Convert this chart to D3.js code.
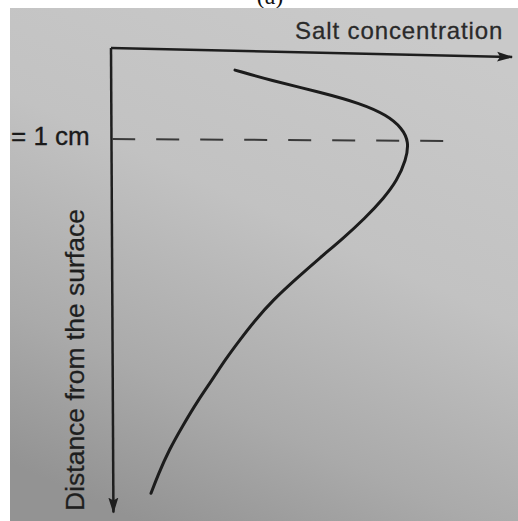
<!DOCTYPE html>
<html>
<head>
<meta charset="utf-8">
<script src="https://cdn.jsdelivr.net/npm/d3@7"></script>
<style>
  html, body { margin: 0; padding: 0; background: #fff; }
  svg { display: block; }
</style>
</head>
<body>
<div id="chartArea"></div>
<script>
// salt concentration profile (arbitrary units) vs depth (cm)
var concentration = [31.0, 39.75, 52.25, 62.25, 69.0, 72.75, 74.5, 73.75, 71.5, 68.25, 63.5, 58.0, 52.25, 46.25, 40.5, 36.0, 32.25, 28.5, 25.25, 21.75, 18.0, 14.5, 11.75, 10.0];
var depth         = [0.24, 0.35, 0.48, 0.60, 0.73, 0.87, 1.02, 1.22, 1.44, 1.63, 1.85, 2.07, 2.28, 2.51, 2.74, 2.96, 3.17, 3.39, 3.61, 3.83, 4.10, 4.37, 4.64, 4.84];
var refDepth = [1];          // the dashed "= 1 cm" level
var refLabel = ["= 1 cm"];
var xTitle = "Salt concentration";
var yTitle = "Distance from the surface";
var panelTitle = "(a)";

(function() {

    var width = 518,
        height = 521;

    // scales: origin of the axes sits at (111, 48)
    var x = d3.scaleLinear().domain([0, 100]).range([111, 511]);
    var y = d3.scaleLinear().domain([0, 5]).range([48, 508]);

    var svg = d3.select("#chartArea").append("svg")
        .attr("width", width)
        .attr("height", height);

    var defs = svg.append("defs");

    // photographed page: light at the top, darker towards bottom left
    var grad = defs.append("linearGradient")
        .attr("id", "paper")
        .attr("x1", "0.7").attr("y1", "0")
        .attr("x2", "0.25").attr("y2", "1");
    grad.append("stop").attr("offset", "0").attr("stop-color", "#c9c9c9");
    grad.append("stop").attr("offset", "0.4").attr("stop-color", "#c2c2c2");
    grad.append("stop").attr("offset", "0.75").attr("stop-color", "#aaaaaa");
    grad.append("stop").attr("offset", "1").attr("stop-color", "#939393");

    defs.append("marker")
        .attr("id", "arrow")
        .attr("viewBox", "0 0 16 12")
        .attr("refX", 15).attr("refY", 6)
        .attr("markerWidth", 16).attr("markerHeight", 12)
        .attr("markerUnits", "userSpaceOnUse")
        .attr("orient", "auto")
      .append("path")
        .attr("d", "M0,1 L16,6 L0,11 L3,6 Z")
        .attr("fill", "#1e1e1e");

    // panel letter, mostly cut off by the photo edge
    svg.append("text")
        .attr("x", 270)
        .attr("y", 4)
        .attr("text-anchor", "middle")
        .attr("font-family", "Liberation Serif, serif")
        .attr("font-size", 24)
        .attr("fill", "#111")
        .text(panelTitle);

    svg.append("rect")
        .attr("x", 10).attr("y", 8)
        .attr("width", width - 10).attr("height", height - 8)
        .attr("fill", "url(#paper)");

    // x axis (slightly tilted in the photo)
    svg.append("g")
        .attr("transform", "rotate(1.28," + x(0) + "," + y(0) + ")")
      .append("line")
        .attr("x1", x(0)).attr("y1", y(0))
        .attr("x2", x(100.3)).attr("y2", y(0))
        .attr("stroke", "#1e1e1e")
        .attr("stroke-width", 2.5)
        .attr("marker-end", "url(#arrow)");

    // y axis
    svg.append("g")
        .attr("transform", "rotate(-0.3," + x(0) + "," + y(0) + ")")
      .append("line")
        .attr("x1", x(0)).attr("y1", y(0))
        .attr("x2", x(0)).attr("y2", y(5.05))
        .attr("stroke", "#1e1e1e")
        .attr("stroke-width", 2.5)
        .attr("marker-end", "url(#arrow)");

    // dashed reference level
    svg.selectAll(".ref")
        .data(refDepth)
        .enter().append("line")
        .attr("class", "ref")
        .attr("x1", x(0.3)).attr("y1", function(d) { return y(d) - 1; })
        .attr("x2", x(84)).attr("y2", function(d) { return y(d) + 1; })
        .attr("stroke", "#3a3a3a")
        .attr("stroke-width", 2)
        .attr("stroke-dasharray", "23,21");

    svg.selectAll(".refLabel")
        .data(refDepth)
        .enter().append("text")
        .attr("class", "refLabel")
        .attr("x", 11)
        .attr("y", function(d) { return y(d) + 5; })
        .attr("font-family", "Liberation Sans, Arial, sans-serif")
        .attr("font-size", 26)
        .attr("fill", "#1a1a1a")
        .attr("stroke", "#1a1a1a")
        .attr("stroke-width", 0.3)
        .text(function(d, i) { return refLabel[i]; });

    // profile curve, smoothed through the read-off points
    var pts = concentration.map(function(c, i) { return [c, depth[i]]; });
    var line = d3.line()
        .x(function(d) { return x(d[0]); })
        .y(function(d) { return y(d[1]); })
        .curve(d3.curveBasis);

    svg.append("path")
        .datum(pts)
        .attr("d", line)
        .attr("fill", "none")
        .attr("stroke", "#1c1c1c")
        .attr("stroke-width", 3)
        .attr("stroke-linecap", "round");

    // axis titles
    svg.append("text")
        .attr("x", 295)
        .attr("y", 39)
        .attr("font-family", "Liberation Sans, Arial, sans-serif")
        .attr("font-size", 24)
        .attr("letter-spacing", 0.9)
        .attr("fill", "#2a2a2a")
        .attr("stroke", "#2a2a2a")
        .attr("stroke-width", 0.3)
        .text(xTitle);

    svg.append("text")
        .attr("transform", "translate(84,511)rotate(-90)")
        .attr("font-family", "Liberation Sans, Arial, sans-serif")
        .attr("font-size", 26.5)
        .attr("fill", "#1e1e1e")
        .attr("stroke", "#1e1e1e")
        .attr("stroke-width", 0.3)
        .text(yTitle);

})()
</script>
</body>
</html>
